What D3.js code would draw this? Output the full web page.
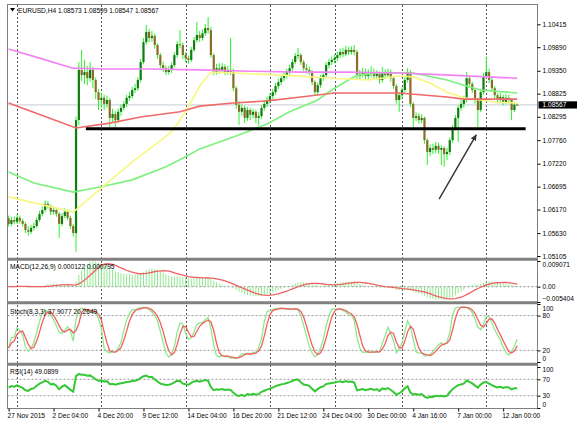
<!DOCTYPE html>
<html>
<head>
<meta charset="utf-8">
<script src="https://cdn.jsdelivr.net/npm/d3@7"></script>
<style>
  body { margin: 0; background: #fff; }
  text { font-family: "Liberation Sans", Arial, sans-serif; font-size: 6.6px; fill: #000; }
</style>
</head>
<body>
<div class="chart"></div>
<script>
// EURUSD H4, 27 Nov 2015 12:00 .. 12 Jan 2016 (one value per bar)
var firstOpen = 1.0597;
var closes = [1.0584,1.0593,1.0589,1.0598,1.0591,1.0584,1.0570,1.0566,1.0575,1.0579,
  1.0593,1.0607,1.0616,1.0630,1.0625,1.0612,1.0616,1.0607,1.0584,1.0602,
  1.0612,1.0598,1.0579,1.0563,1.0822,1.0937,1.0925,1.0932,1.0918,1.0937,
  1.0914,1.0886,1.0868,1.0873,1.0859,1.0868,1.0827,1.0836,1.0822,1.0841,
  1.0850,1.0859,1.0873,1.0877,1.0891,1.0895,1.0914,1.0955,1.1001,1.1024,
  1.1010,1.1015,1.0994,1.0971,1.0948,1.0941,1.0932,1.0937,1.0948,1.0971,
  1.0996,1.0994,1.0971,1.0964,1.0960,1.0983,1.1005,1.1017,1.1010,1.1021,
  1.1033,1.1028,1.0971,1.0932,1.0941,1.0937,1.0944,1.0932,1.0937,1.0932,
  1.0895,1.0857,1.0841,1.0850,1.0827,1.0845,1.0834,1.0841,1.0827,1.0831,
  1.0850,1.0859,1.0868,1.0877,1.0886,1.0900,1.0909,1.0918,1.0923,1.0932,
  1.0941,1.0955,1.0969,1.0971,1.0955,1.0941,1.0937,1.0932,1.0909,1.0886,
  1.0902,1.0918,1.0925,1.0948,1.0955,1.0960,1.0964,1.0971,1.0978,1.0973,
  1.0983,1.0978,1.0983,1.0978,1.0923,1.0928,1.0932,1.0923,1.0928,1.0932,
  1.0923,1.0928,1.0914,1.0930,1.0925,1.0932,1.0918,1.0900,1.0868,1.0879,
  1.0891,1.0914,1.0932,1.0859,1.0827,1.0831,1.0822,1.0827,1.0776,1.0749,
  1.0758,1.0754,1.0763,1.0754,1.0758,1.0744,1.0749,1.0776,1.0804,1.0827,
  1.0850,1.0859,1.0868,1.0918,1.0905,1.0891,1.0868,1.0845,1.0886,1.0923,
  1.0932,1.0914,1.0895,1.0879,1.0868,1.0875,1.0863,1.0873,1.0868,1.0845,
  1.08573,1.08567];
var highs = [1.0603,1.0600,1.0601,1.0606,1.0603,1.0596,1.0588,1.0579,1.0582,1.0587,
  1.0599,1.0614,1.0624,1.0638,1.0637,1.0629,1.0624,1.0621,1.0611,1.0609,
  1.0620,1.0617,1.0603,1.0584,1.0830,1.0955,1.0983,1.0960,1.0946,1.0955,
  1.0944,1.0920,1.0893,1.0885,1.0880,1.0878,1.0872,1.0848,1.0842,1.0848,
  1.0858,1.0866,1.0880,1.0887,1.0898,1.0905,1.0920,1.0962,1.1010,1.1040,
  1.1030,1.1026,1.1020,1.0998,1.0976,1.0956,1.0947,1.0946,1.0954,1.0978,
  1.1003,1.1028,1.1000,1.0978,1.0970,1.0990,1.1012,1.1047,1.1026,1.1030,
  1.1042,1.1058,1.1035,1.0975,1.0950,1.0952,1.0953,1.0950,1.0946,1.1010,
  1.0940,1.0900,1.0865,1.0858,1.0855,1.0852,1.0850,1.0848,1.0846,1.0840,
  1.0856,1.0866,1.0876,1.0884,1.0893,1.0907,1.0917,1.0926,1.0931,1.0940,
  1.0949,1.0962,1.0976,1.0987,1.0976,1.0960,1.0950,1.0945,1.0937,1.0913,
  1.0908,1.0925,1.0933,1.0955,1.0963,1.0968,1.0972,1.0979,1.0986,1.0988,
  1.0992,1.0990,1.0991,1.0994,1.0983,1.0937,1.0942,1.0940,1.0938,1.0945,
  1.0940,1.0936,1.0933,1.0944,1.0938,1.0940,1.0938,1.0922,1.0905,1.0885,
  1.0897,1.0920,1.0941,1.0936,1.0863,1.0840,1.0838,1.0835,1.0830,1.0780,
  1.0766,1.0768,1.0772,1.0770,1.0764,1.0762,1.0758,1.0782,1.0810,1.0834,
  1.0856,1.0868,1.0878,1.0932,1.0925,1.0910,1.0895,1.0872,1.0892,1.0930,
  1.0967,1.0940,1.0920,1.0900,1.0884,1.0884,1.0880,1.0882,1.0880,1.0872,
  1.0864,1.08599];
var lows = [1.0578,1.0579,1.0583,1.0584,1.0585,1.0578,1.0563,1.0557,1.0561,1.0569,
  1.0574,1.0589,1.0601,1.0611,1.0619,1.0604,1.0605,1.0600,1.0552,1.0579,
  1.0597,1.0592,1.0572,1.0555,1.0520,1.0810,1.0912,1.0905,1.0902,1.0910,
  1.0895,1.0870,1.0845,1.0850,1.0845,1.0850,1.0806,1.0818,1.0806,1.0815,
  1.0832,1.0844,1.0852,1.0866,1.0871,1.0884,1.0889,1.0908,1.0950,1.0995,
  1.1000,1.1002,1.0986,1.0962,1.0940,1.0932,1.0925,1.0926,1.0930,1.0943,
  1.0965,1.0986,1.0962,1.0955,1.0951,1.0955,1.0978,1.1000,1.1001,1.1004,
  1.1015,1.1020,1.0965,1.0925,1.0926,1.0928,1.0930,1.0925,1.0926,1.0925,
  1.0888,1.0848,1.0811,1.0832,1.0815,1.0820,1.0822,1.0826,1.0815,1.0809,
  1.0825,1.0843,1.0852,1.0860,1.0870,1.0880,1.0893,1.0902,1.0911,1.0917,
  1.0926,1.0935,1.0950,1.0961,1.0948,1.0934,1.0929,1.0925,1.0902,1.0877,
  1.0880,1.0896,1.0912,1.0919,1.0941,1.0948,1.0952,1.0957,1.0965,1.0966,
  1.0968,1.0971,1.0972,1.0970,1.0915,1.0914,1.0920,1.0915,1.0916,1.0920,
  1.0914,1.0915,1.0905,1.0908,1.0916,1.0918,1.0910,1.0893,1.0860,1.0841,
  1.0870,1.0885,1.0908,1.0852,1.0806,1.0820,1.0814,1.0815,1.0768,1.0719,
  1.0740,1.0744,1.0746,1.0745,1.0719,1.0715,1.0730,1.0742,1.0770,1.0798,
  1.0772,1.0843,1.0850,1.0862,1.0898,1.0884,1.0860,1.0806,1.0840,1.0880,
  1.0918,1.0907,1.0888,1.0872,1.0860,1.0862,1.0856,1.0858,1.0860,1.0822,
  1.0840,1.08547];

// moving averages, read at sample bars: [bar index, price]
var maPink = [[0,1.0985],[11,1.0964],[23,1.0941],[33,1.0939],[50,1.0939],[68,1.0937],[86,1.0934],
  [104,1.0932],[121,1.0932],[139,1.0930],[157,1.0925],[170,1.0921],[181,1.0918]];
var maRed = [[0,1.0861],[24,1.0804],[36,1.0815],[47,1.0829],[61,1.0841],[68,1.0854],[80,1.0861],
  [92,1.0866],[104,1.0875],[116,1.0884],[128,1.0884],[139,1.0884],[156,1.0875],[162,1.0870],[171,1.0870],[181,1.0870]];
var maYellow = [[0,1.0646],[23,1.0611],[33,1.0666],[44,1.0726],[53,1.0770],[58,1.0795],[63,1.0841],
  [68,1.0900],[72,1.0932],[80,1.0930],[98,1.0925],[115,1.0918],[128,1.0914],[139,1.0923],[144,1.0921],
  [150,1.0907],[156,1.0886],[162,1.0873],[168,1.0868],[174,1.0863],[181,1.0861]];
var maGreen = [[0,1.0703],[9,1.0678],[23,1.0657],[33,1.0669],[44,1.0685],[56,1.0715],[63,1.0738],
  [68,1.0756],[80,1.0783],[92,1.0813],[100,1.0841],[110,1.0868],[115,1.0891],[124,1.0925],[132,1.0930],
  [144,1.0930],[156,1.0914],[162,1.0902],[168,1.0891],[181,1.0884]];

var bidPrice = 1.08567;
var supportLevel = 1.0802, supportFrom = 27.5, supportTo = 184;
var arrowFrom = [153.2, 1.0641], arrowTo = [166.4, 1.0788];

var priceTicks = [1.10415,1.09890,1.09350,1.08825,1.08295,1.07760,1.07220,1.06695,1.06170,1.05630,1.05105];
var weekStarts = [3, 33, 63, 93, 116, 140, 170];
var timeLabelIdx = [0,16,32,48,64,80,96,112,128,144,160,176];
var timeLabels = ["27 Nov 2015","2 Dec 04:00","4 Dec 20:00","9 Dec 12:00","14 Dec 04:00","16 Dec 20:00",
  "21 Dec 12:00","24 Dec 04:00","30 Dec 00:00","4 Jan 16:00","7 Jan 00:00","12 Jan 00:00"];

var svgWidth = 577, svgHeight = 425;
var left = 7.5, right = 537.5;

var svg = d3.select(".chart").append("svg")
  .attr("width", svgWidth).attr("height", svgHeight);

var n = closes.length;
var xScale = d3.scaleLinear().domain([0, n - 1]).range([8.6, 8.6 + (n - 1) * 2.81]);
var yMain = d3.scaleLinear().domain([1.05105, 1.10415]).range([256, 24.3]);
var yMacd = d3.scaleLinear().domain([-0.005404, 0.009071]).range([302, 261]);
var yStoch = d3.scaleLinear().domain([0, 100]).range([362, 304]);
var yRsi = d3.scaleLinear().domain([0, 100]).range([408, 367]);

var panels = [
  {id: "cMain", y0: 4.5, y1: 258},
  {id: "cMacd", y0: 260.5, y1: 302},
  {id: "cStoch", y0: 303.5, y1: 363},
  {id: "cRsi", y0: 365, y1: 408.5}
];
var defs = svg.append("defs");
panels.forEach(function(p) {
  defs.append("clipPath").attr("id", p.id).append("rect")
    .attr("x", left).attr("y", p.y0).attr("width", right - left).attr("height", p.y1 - p.y0);
});
defs.append("marker").attr("id", "head").attr("viewBox", "0 0 10 10")
  .attr("refX", 8).attr("refY", 5).attr("markerWidth", 5).attr("markerHeight", 5)
  .attr("orient", "auto")
  .append("path").attr("d", "M0,1 L9,5 L0,9 Z").attr("fill", "#333");

// vertical dotted grid through all panels
svg.append("g").selectAll("line").data(weekStarts).enter().append("line")
  .attr("x1", d => Math.round(xScale(d)) + 0.5).attr("x2", d => Math.round(xScale(d)) + 0.5)
  .attr("y1", 5).attr("y2", 408)
  .attr("stroke", "#555").attr("stroke-dasharray", "2,2");

// ---------- main panel ----------
var main = svg.append("g").attr("clip-path", "url(#cMain)");

main.append("line")
  .attr("x1", left).attr("x2", right)
  .attr("y1", yMain(bidPrice)).attr("y2", yMain(bidPrice))
  .attr("stroke", "#c4ccd4").attr("stroke-width", 1);

var bars = closes.map(function(c, i) {
  return {i: i, o: i === 0 ? firstOpen : closes[i - 1], h: highs[i], l: lows[i], c: c};
});

main.selectAll(".wick").data(bars).enter().append("line")
  .attr("x1", d => xScale(d.i)).attr("x2", d => xScale(d.i))
  .attr("y1", d => yMain(d.h)).attr("y2", d => yMain(d.l))
  .attr("stroke", "#2cf02c").attr("stroke-width", 1);

main.selectAll(".body").data(bars).enter().append("rect")
  .attr("x", d => xScale(d.i) - 1.1)
  .attr("width", 2.2)
  .attr("y", d => yMain(Math.max(d.o, d.c)))
  .attr("height", d => Math.max(1, Math.abs(yMain(d.o) - yMain(d.c))))
  .attr("fill", d => d.c >= d.o ? "#0f7d0f" : "#8a6d25");

var maLine = d3.line().x(d => xScale(d[0])).y(d => yMain(d[1]));
[[maGreen, "#7ef07e"], [maYellow, "#f8f880"], [maRed, "#f06a6a"], [maPink, "#f283f2"]].forEach(function(m) {
  main.append("path").datum(m[0]).attr("d", maLine)
    .attr("fill", "none").attr("stroke", m[1]).attr("stroke-width", 1.6);
});

main.append("line")
  .attr("x1", xScale(supportFrom)).attr("x2", xScale(supportTo))
  .attr("y1", yMain(supportLevel)).attr("y2", yMain(supportLevel))
  .attr("stroke", "#000").attr("stroke-width", 3);

main.append("line")
  .attr("x1", xScale(arrowFrom[0])).attr("y1", yMain(arrowFrom[1]))
  .attr("x2", xScale(arrowTo[0])).attr("y2", yMain(arrowTo[1]))
  .attr("stroke", "#333").attr("stroke-width", 1.4).attr("marker-end", "url(#head)");

// title
svg.append("path").attr("d", "M10,8 L15,8 L12.5,11.5 Z").attr("fill", "#000");
svg.append("text").attr("x", 18).attr("y", 12.5)
  .text("EURUSD,H4  1.08573 1.08599 1.08547 1.08567");

// ---------- indicators computed from the bars ----------
function ema(arr, p) {
  var k = 2 / (p + 1), prev = arr[0];
  return arr.map(function(v, i) { prev = i === 0 ? v : prev + k * (v - prev); return prev; });
}
function sma(arr, p) {
  return arr.map(function(v, i) {
    var s = arr.slice(Math.max(0, i - p + 1), i + 1);
    return d3.mean(s);
  });
}
var e12 = ema(closes, 12), e26 = ema(closes, 26);
var macd = closes.map((c, i) => e12[i] - e26[i]);
var macdSignal = sma(macd, 9);

var stochK = closes.map(function(c, i) {
  var num = 0, den = 0;
  for (var j = Math.max(0, i - 2); j <= i; j++) {
    var from = Math.max(0, j - 7);
    var lo = d3.min(lows.slice(from, j + 1)), hi = d3.max(highs.slice(from, j + 1));
    num += closes[j] - lo; den += hi - lo;
  }
  return den === 0 ? 50 : 100 * num / den;
});
var stochD = sma(stochK, 3);

var rsi = [];
(function() {
  var first = [];
  for (var i = 1; i <= 14; i++) first.push(Math.abs(closes[i] - closes[i - 1]));
  var ag = d3.mean(first) / 2, al = ag;
  rsi.push(50);
  for (var k = 1; k < n; k++) {
    var ch = closes[k] - closes[k - 1];
    ag = (ag * 13 + Math.max(ch, 0)) / 14;
    al = (al * 13 + Math.max(-ch, 0)) / 14;
    rsi.push(al === 0 ? 100 : 100 - 100 / (1 + ag / al));
  }
})();

// ---------- MACD panel ----------
var gm = svg.append("g").attr("clip-path", "url(#cMacd)");
gm.append("line").attr("x1", left).attr("x2", right)
  .attr("y1", yMacd(0)).attr("y2", yMacd(0))
  .attr("stroke", "#888").attr("stroke-dasharray", "2,2");
gm.selectAll(".hist").data(macd).enter().append("line")
  .attr("x1", (d, i) => xScale(i)).attr("x2", (d, i) => xScale(i))
  .attr("y1", yMacd(0)).attr("y2", d => yMacd(d))
  .attr("stroke", "#8fe88f").attr("stroke-width", 1);
gm.append("path").datum(macdSignal)
  .attr("d", d3.line().x((d, i) => xScale(i)).y(d => yMacd(d)))
  .attr("fill", "none").attr("stroke", "#f06060").attr("stroke-width", 1.3);
svg.append("text").attr("x", 10).attr("y", 268.5).text("MACD(12,26,9) 0.000122 0.000795");

// ---------- Stochastic panel ----------
var gs = svg.append("g").attr("clip-path", "url(#cStoch)");
gs.selectAll(".lvl").data([80, 20]).enter().append("line")
  .attr("x1", left).attr("x2", right)
  .attr("y1", d => yStoch(d)).attr("y2", d => yStoch(d))
  .attr("stroke", "#999").attr("stroke-dasharray", "2,2");
gs.append("path").datum(stochK)
  .attr("d", d3.line().x((d, i) => xScale(i)).y(d => yStoch(d)))
  .attr("fill", "none").attr("stroke", "#8fe88f").attr("stroke-width", 1.3);
gs.append("path").datum(stochD)
  .attr("d", d3.line().x((d, i) => xScale(i)).y(d => yStoch(d)))
  .attr("fill", "none").attr("stroke", "#f06060").attr("stroke-width", 1.3);
svg.append("text").attr("x", 10).attr("y", 313.5).text("Stoch(8,3,3) 37.9077 20.2649");

// ---------- RSI panel ----------
var gr = svg.append("g").attr("clip-path", "url(#cRsi)");
gr.selectAll(".lvl").data([70, 30]).enter().append("line")
  .attr("x1", left).attr("x2", right)
  .attr("y1", d => yRsi(d)).attr("y2", d => yRsi(d))
  .attr("stroke", "#999").attr("stroke-dasharray", "2,2");
gr.append("path").datum(rsi)
  .attr("d", d3.line().x((d, i) => xScale(i)).y(d => yRsi(d)))
  .attr("fill", "none").attr("stroke", "#35c835").attr("stroke-width", 2);
svg.append("text").attr("x", 10).attr("y", 374).text("RSI(14) 49.0899");

// ---------- frames ----------
svg.append("rect").attr("x", left).attr("y", 4.5).attr("width", right - left).attr("height", 404)
  .attr("fill", "none").attr("stroke", "#808080");
[259.3, 302.8, 364.2].forEach(function(y) {
  svg.append("line").attr("x1", left).attr("x2", right).attr("y1", y).attr("y2", y)
    .attr("stroke", "#808080").attr("stroke-width", 3);
});

// ---------- axes ----------
function styleAxis(g) {
  g.select(".domain").remove();
  g.selectAll("line").attr("stroke", "#000");
  g.selectAll("text").attr("font-family", null).attr("font-size", null);
}
svg.append("g").attr("transform", "translate(" + right + ",0)")
  .call(d3.axisRight(yMain).tickValues(priceTicks).tickSize(3).tickPadding(2).tickFormat(d3.format(".5f")))
  .call(styleAxis);

// current bid tag
svg.append("rect").attr("x", right + 1).attr("y", yMain(bidPrice) - 3.6)
  .attr("width", 40).attr("height", 7.2).attr("fill", "#000");
svg.append("text").attr("x", right + 5).attr("y", yMain(bidPrice) + 2.3)
  .style("fill", "#fff").text(d3.format(".5f")(bidPrice));

var macdTicks = [0.009071, 0, -0.005404];
svg.append("g").attr("transform", "translate(" + right + ",0)")
  .call(d3.axisRight(yMacd).tickValues(macdTicks).tickSize(3).tickPadding(2)
    .tickFormat(d => d === 0 ? "0.00" : d3.format(".6f")(d)))
  .call(styleAxis)
  .selectAll("text").attr("dy", (d) => d > 0 ? "0.9em" : (d < 0 ? "-0.2em" : "0.32em"));

svg.append("g").attr("transform", "translate(" + right + ",0)")
  .call(d3.axisRight(yStoch).tickValues([100, 80, 20, 0]).tickSize(3).tickPadding(2))
  .call(styleAxis)
  .selectAll("text").attr("dy", d => d === 100 ? "1.0em" : (d === 0 ? "-0.3em" : "0.32em"));

svg.append("g").attr("transform", "translate(" + right + ",0)")
  .call(d3.axisRight(yRsi).tickValues([100, 70, 30, 0]).tickSize(3).tickPadding(2))
  .call(styleAxis)
  .selectAll("text").attr("dy", d => d === 100 ? "0.7em" : (d === 0 ? "-0.3em" : "0.32em"));

svg.append("g").attr("transform", "translate(0,408.5)")
  .call(d3.axisBottom(xScale).tickValues(timeLabelIdx).tickSize(3).tickPadding(2)
    .tickFormat((d, i) => timeLabels[i]))
  .call(styleAxis)
  .selectAll("text").attr("text-anchor", "start").attr("x", -1.5);
</script>
</body>
</html>
